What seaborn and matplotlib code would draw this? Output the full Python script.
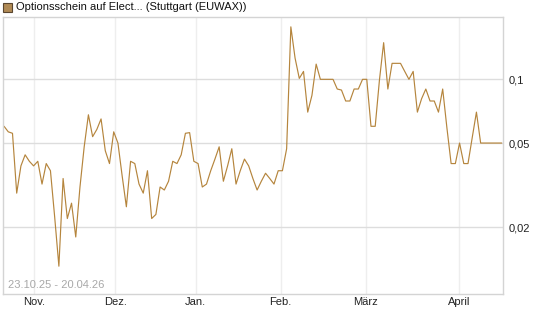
import numpy as np
import pandas as pd
import seaborn as sns
import matplotlib
matplotlib.use("Agg")
import matplotlib.pyplot as plt
from matplotlib.patches import Rectangle
from matplotlib.ticker import FixedLocator, NullLocator

# values, one per trading day, 23.10.25 - 20.04.26
price = [0.060, 0.0565, 0.0556, 0.029, 0.039, 0.044, 0.041, 0.039, 0.041, 0.032,
         0.040, 0.037, 0.0224, 0.0131, 0.034, 0.022, 0.026, 0.018, 0.031, 0.048,
         0.068, 0.0536, 0.058, 0.065, 0.046, 0.040, 0.0565, 0.050, 0.035, 0.025,
         0.041, 0.040, 0.032, 0.029, 0.037, 0.022, 0.023, 0.031, 0.030, 0.033,
         0.041, 0.040, 0.044, 0.0556, 0.056, 0.041, 0.040, 0.031, 0.032, 0.037,
         0.042, 0.048, 0.033, 0.039, 0.047, 0.032, 0.037, 0.042, 0.039, 0.034,
         0.030, 0.033, 0.036, 0.034, 0.032, 0.037, 0.037, 0.047, 0.177, 0.126,
         0.101, 0.109, 0.070, 0.084, 0.118, 0.100, 0.100, 0.100, 0.100, 0.090,
         0.089, 0.079, 0.079, 0.090, 0.090, 0.100, 0.100, 0.060, 0.060, 0.099,
         0.149, 0.090, 0.119, 0.119, 0.119, 0.109, 0.100, 0.109, 0.070, 0.081,
         0.090, 0.079, 0.079, 0.070, 0.090, 0.059, 0.040, 0.040, 0.050, 0.040,
         0.040, 0.053, 0.070, 0.050, 0.050, 0.050, 0.050, 0.050, 0.050]
month_labels = ["Nov.", "Dez.", "Jan.", "Feb.", "März", "April"]
month_pos = [7.2, 26.4, 45.4, 65.6, 85.8, 107.8]   # day index of month start
y_ticks = [0.02, 0.05, 0.1]
y_tick_labels = ["0,02", "0,05", "0,1"]

df = pd.DataFrame({"day": np.arange(len(price)), "price": price})

sns.set_style("white")
plt.rcParams["font.family"] = ["Liberation Sans", "DejaVu Sans"]

line_col = "#b5853d"
fig = plt.figure(figsize=(5.45, 3.27), dpi=100)
ax = fig.add_axes([3 / 545, 33 / 327, 500 / 545, 277 / 327])

sns.lineplot(data=df, x="day", y="price", ax=ax, color=line_col, linewidth=0.85)

ax.set_yscale("log")
ax.set_ylim(0.00968, 0.197)
ax.set_xlim(-0.25, 118.3)

ax.yaxis.tick_right()
ax.yaxis.set_major_locator(FixedLocator(y_ticks))
ax.yaxis.set_minor_locator(NullLocator())
ax.set_yticklabels(y_tick_labels)
ax.set_xticks(month_pos)
ax.set_xticklabels(month_labels)
ax.tick_params(axis="both", length=0, labelsize=8, colors="#222222")
ax.tick_params(axis="y", pad=4)
ax.tick_params(axis="x", pad=2)
ax.set_xlabel("")
ax.set_ylabel("")

ax.grid(axis="y", color="#dddddd", linewidth=1)
ax.grid(axis="x", color="#eeeeee", linewidth=1)
ax.set_axisbelow(True)
for s in ax.spines.values():
    s.set_color("#d4d4d4")
    s.set_linewidth(1)

ax.text(0.01, 0.015, "23.10.25 - 20.04.26", transform=ax.transAxes,
        fontsize=8, color="#a8a8a8", ha="left", va="bottom")

# title with colour box
fig.patches.append(Rectangle((3 / 545, 1 - 12 / 327), 9 / 545, 9 / 327,
                             transform=fig.transFigure, facecolor="#b08a55",
                             edgecolor="#5a4630", linewidth=0.8))
fig.text(16 / 545, 1 - 7.5 / 327, "Optionsschein auf Elect... (Stuttgart (EUWAX))",
         fontsize=8, color="#111111", ha="left", va="center")

plt.savefig("out.png", dpi=100)
